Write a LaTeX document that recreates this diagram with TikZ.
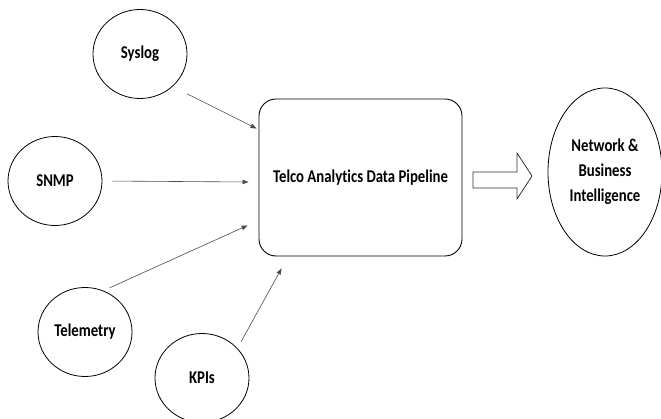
\documentclass[tikz,border=0pt]{standalone}
\usepackage{fontspec}
\setmainfont{Carlito}[FakeStretch=0.82,Ligatures=NoCommon]
\usetikzlibrary{arrows.meta,shapes.geometric}
\begin{document}
\begin{tikzpicture}[x=1pt,y=-1pt,
  lbl/.style={font=\fontsize{18}{25}\selectfont\bfseries},
  src/.style={ellipse,draw=black,line width=0.8pt,inner sep=0pt,minimum width=94pt,minimum height=89pt,lbl},
  arr/.style={draw=black!70,line width=0.6pt,-{Triangle[length=6pt,width=4.5pt]}},
  fat/.style={draw=black!80,line width=0.8pt,fill=white}]
\useasboundingbox[fill=white] (0,0) rectangle (661,419);
\node[src] (syslog) at (140,54) {Syslog};
\node[src] (snmp) at (55,181) {SNMP};
\node[src] (tele) at (85,332) {Telemetry};
\node[src] (kpi) at (202,378) {KPIs};
\node[draw=black,line width=0.9pt,rounded corners=17pt,minimum width=203pt,minimum height=157pt,lbl] (box) at (360.5,177.5) {Telco Analytics Data Pipeline};
\node[ellipse,draw=black,line width=0.8pt,inner sep=0pt,minimum width=114pt,minimum height=168pt,align=center,lbl] (bi) at (605,172) {Network \&\\Business\\Intelligence};
\path (box.north west) ++(-2,30) coordinate (t1);
\path (box.west) ++(-10,4.5) coordinate (t2);
\path (box.south west) ++(-11,-31) coordinate (t3);
\path (box.south west) ++(23,12) coordinate (t4);
\draw[arr,shorten <=16pt] (syslog.-45) -- (t1);
\draw[arr,shorten <=10pt] (snmp.east) -- (t2);
\draw[arr,shorten <=7pt] (tele.66) -- (t3);
\draw[arr,shorten <=7.5pt] (kpi.40) -- (t4);
\draw[fat] (473,172) coordinate (s1) -- (517,172) -- (517,153) -- (532,176) -- (517,199) -- (517,188) -- (473,188) -- cycle;
\end{tikzpicture}
\end{document}
